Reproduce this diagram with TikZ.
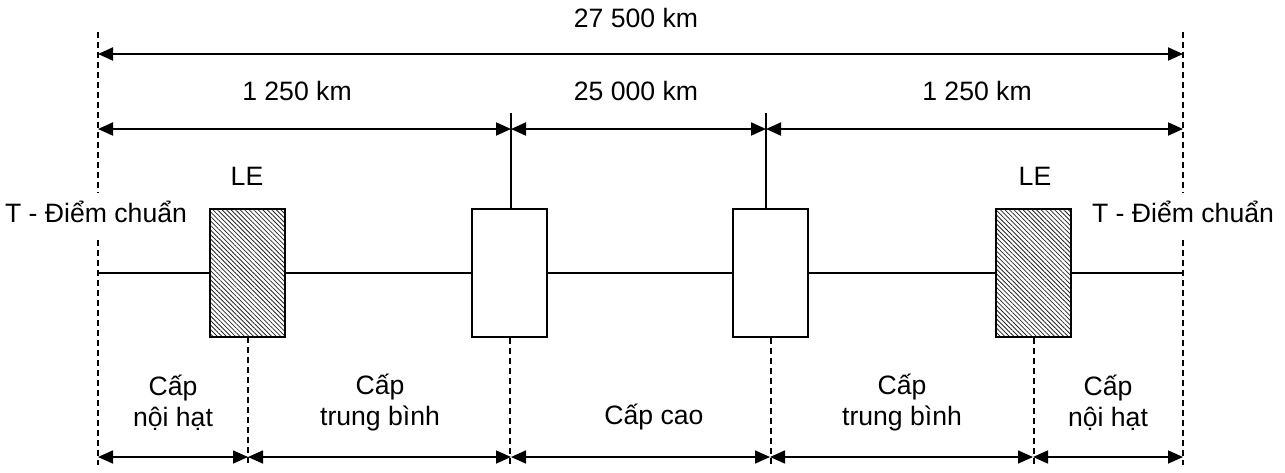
\documentclass[tikz,border=0pt]{standalone}
\usepackage{fontspec}
\setmainfont{Liberation Sans}
\usetikzlibrary{arrows.meta,patterns.meta}

\begin{document}
\begin{tikzpicture}[x=0.5pt,y=-0.5pt,
    font=\fontsize{13.3}{15.5}\selectfont,
    lebox/.style={draw, line width=1pt, minimum width=37.5pt, minimum height=64pt, inner sep=0pt,
                  pattern={Lines[angle=-45,distance=1.6pt,line width=0.4pt]}, pattern color=black!85},
    plainbox/.style={draw, line width=1pt, fill=white, minimum width=37.5pt, minimum height=64pt, inner sep=0pt},
    dimarrow/.style={{Triangle[length=7.5pt,width=6.5pt]}-{Triangle[length=7.5pt,width=6.5pt]}, line width=1pt},
    guide/.style={dash pattern=on 3pt off 2pt, line width=1pt},
    label/.style={anchor=base, inner sep=0pt}]
    \useasboundingbox (0,0) rectangle (1285,472);
    % Boxes
    \node[lebox] (le1) at (247.5,273) {};
    \node[plainbox] (cc1) at (509.5,273) {};
    \node[plainbox] (cc2) at (770.5,273) {};
    \node[lebox] (le2) at (1033.5,273) {};
    \coordinate (refL) at (98,273);
    \coordinate (refR) at (1183,273);
    % Main line
    \draw[line width=1pt] (refL) -- (le1) -- (cc1) -- (cc2) -- (le2) -- (refR);
    % Guides
    \draw[guide] (98,32) -- (98,193);
    \draw[guide] (98,240) -- (98,465);
    \draw[guide] (1183,32) -- (1183,193);
    \draw[guide] (1183,240) -- (1183,465);
    \draw[guide] (le1.south) -- ++(0,128);
    \draw[guide] (cc1.south) -- ++(0,128);
    \draw[guide] (cc2.south) -- ++(0,128);
    \draw[guide] (le2.south) -- ++(0,128);
    % Ticks
    \coordinate (t1) at (511,113);
    \coordinate (t2) at (766,113);
    \draw[line width=1pt] (t1) -- (t1 |- cc1.north);
    \draw[line width=1pt] (t2) -- (t2 |- cc2.north);
    % Dimension arrows
    \coordinate (a0) at (98,54);
    \coordinate (a1) at (1183,54);
    \coordinate (b0) at (98,129);
    \coordinate (b1) at (511,129);
    \coordinate (b2) at (766,129);
    \coordinate (b3) at (1183,129);
    \draw[dimarrow] (a0) -- (a1);
    \draw[dimarrow] (b0) -- (b1);
    \draw[dimarrow] (b1) -- (b2);
    \draw[dimarrow] (b2) -- (b3);
    \foreach \x [count=\i] in {98,248,511,770,1033,1183} {
      \coordinate (c\i) at (\x,457);
    }
    \foreach \i/\j in {1/2,2/3,3/4,4/5,5/6} {
      \draw[dimarrow, line width=0.8pt] (c\i) -- (c\j);
    }
    % Labels
    \node[label] (total) at (636,27) {27 500 km};
    \node[label] (lenL) at (297,100) {1 250 km};
    \node[label] (lenM) at (636,100) {25 000 km};
    \node[label] (lenR) at (977,100) {1 250 km};
    \node[label] (leL) at (247,185) {LE};
    \node[label] (leR) at (1035,185) {LE};
    \node[label] (tL) at (96,222) {T - Điểm chuẩn};
    \node[label] (tR) at (1183,222) {T - Điểm chuẩn};
    \node[align=center] (s1) at (173,403) {Cấp\\nội hạt};
    \node[align=center] (s2) at (380,403) {Cấp\\trung bình};
    \node[label] (s3) at (654,424) {Cấp cao};
    \node[align=center] (s4) at (902,403) {Cấp\\trung bình};
    \node[align=center] (s5) at (1108,403) {Cấp\\nội hạt};
\end{tikzpicture}
\end{document}
